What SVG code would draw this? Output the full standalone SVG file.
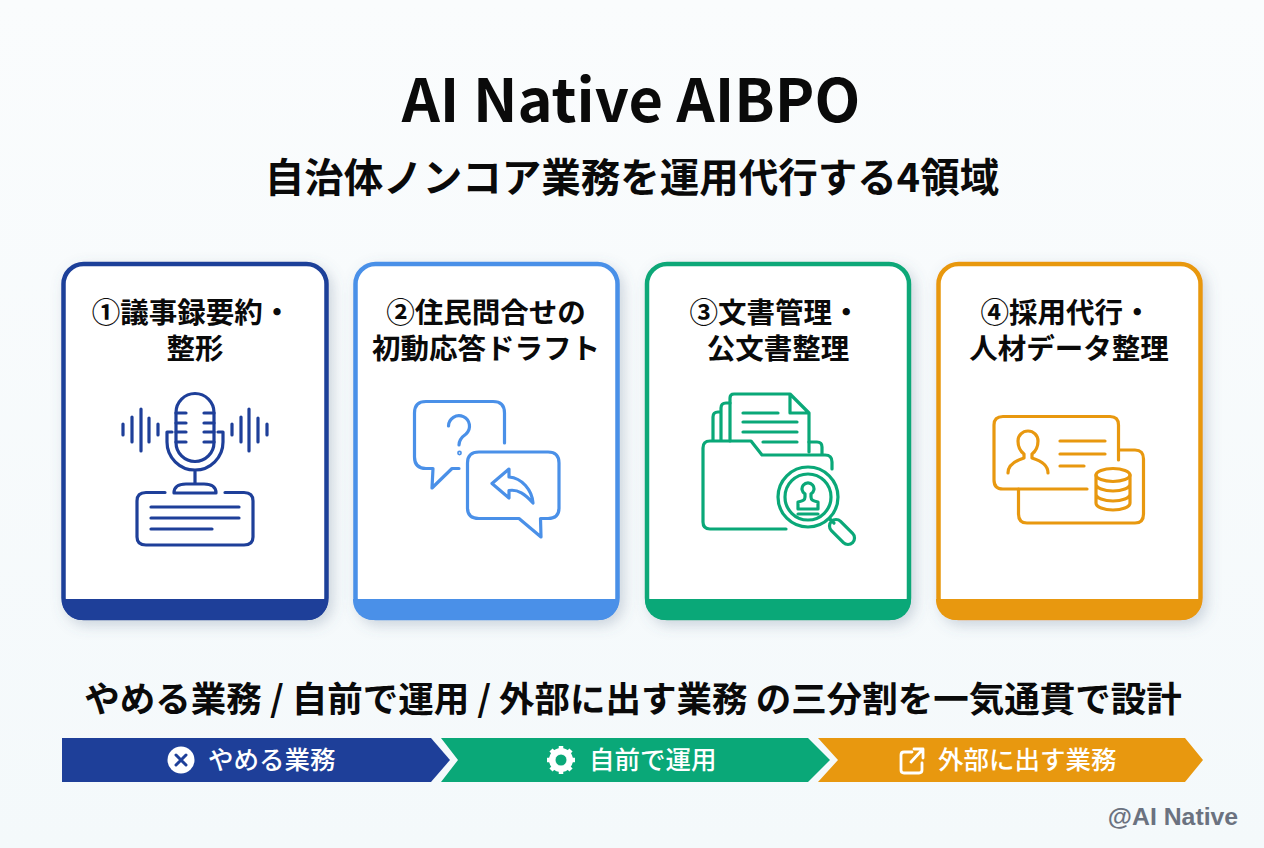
<svg xmlns="http://www.w3.org/2000/svg" width="1264" height="848" viewBox="0 0 1264 848">
<style>
text{font-family:"Noto Sans CJK JP","Noto Sans",sans-serif;font-weight:700;fill:#0a0a0a;text-anchor:middle}
.card{fill:#fff;stroke-width:4.5}
.ct{font-size:28.500px}
.ic{fill:none;stroke-width:3.200;stroke-linecap:round;stroke-linejoin:round}
.bt{font-size:25.500px;fill:#fff;font-weight:500;text-anchor:start}
</style>
<defs>
<linearGradient id="bg" x1="0" y1="0" x2="0" y2="1"><stop offset="0" stop-color="#fafcfd"/><stop offset="1" stop-color="#f4f9fb"/></linearGradient>
<filter id="sh" x="-15%" y="-10%" width="130%" height="120%"><feDropShadow dx="4" dy="5" stdDeviation="7" flood-color="#5a7088" flood-opacity=".28"/></filter>
</defs>
<rect width="1264" height="848" fill="url(#bg)"/>
<g id="title">
<text x="631" y="122" font-size="59.500">AI Native AIBPO</text>
<text x="632" y="192" font-size="39.500">自治体ノンコア業務を運用代行する4領域</text>
</g>

<g id="card1">
<rect class="card" x="63.500" y="264" width="263" height="354" rx="20" stroke="#1e3f99" filter="url(#sh)"/>
<path d="M62 599H328V600A20 20 0 0 1 308 620H82A20 20 0 0 1 62 600Z" fill="#1e3f99"/>
<text class="ct" x="191.500" y="323">①議事録要約・</text>
<text class="ct" x="195" y="359">整形</text>
<g class="ic" stroke="#1e3f99">
<rect x="176" y="393.500" width="38" height="68" rx="19"/>
<path d="M167 432H172M218 432H223M167 432V442A28 28 0 0 0 223 442V432M195 470V484M174 493C174 486 180 484 186 484H204C210 484 216 486 216 493ZM165 492.500H146Q137 492.500 137 501V537Q137 545 146 545H244Q253 545 253 537V501Q253 492.500 244 492.500H225"/>
<path d="M176 413H186M204 413H214M176 423H186M204 423H214M176 432H186M204 432H214M176 442H186M204 442H214"/>
<path d="M151 507H239M151 518H239M151 529H212"/>
<path d="M123 424V435M132 417V442M141 409V451M149 418V442M158 424V435M232 424V435M241 417V442M249 409V451M258 418V442M267 424V435"/>
</g>
</g>

<g id="card2">
<rect class="card" x="355.500" y="264" width="262" height="354" rx="20" stroke="#4a90e8" filter="url(#sh)"/>
<path d="M353 599H619V600A20 20 0 0 1 599 620H373A20 20 0 0 1 353 600Z" fill="#4a90e8"/>
<text class="ct" x="486" y="323">②住民問合せの</text>
<text class="ct" x="486" y="359">初動応答ドラフト</text>
<g class="ic" stroke="#4a90e8">
<path d="M504.500 443V413Q504.500 401.500 493 401.500H426Q414.500 401.500 414.500 413V457Q414.500 468.500 426 468.500H433L432 488L452 468.500H459"/>
<path d="M448.500 426A10.500 10.500 0 1 1 466 434Q459 439 459 445"/>
<circle cx="459.500" cy="453" r=".8"/>
<path d="M479 452H548Q559 452 559 463V508Q559 518.500 548 518.500H540.500L541 537L519 518.500H479Q467.500 518.500 467.500 508V463Q467.500 452 479 452Z"/>
<path d="M509 469L492 483.500L509 498V490.500C518 489 525 494 533 503C532 490 522 478 509 477Z"/>
</g>
</g>

<g id="card3">
<rect class="card" x="647" y="264" width="262" height="354" rx="20" stroke="#0aa878" filter="url(#sh)"/>
<path d="M645 599H911V600A20 20 0 0 1 891 620H665A20 20 0 0 1 645 600Z" fill="#0aa878"/>
<text class="ct" x="775" y="323">③文書管理・</text>
<text class="ct" x="778" y="359">公文書整理</text>
<g class="ic" stroke="#0aa878">
<path d="M730 441V398Q730 394 734 394H790L809 413V452M790 394V413H809"/>
<path d="M730 403H726Q721 403 721 408V440M721 412H718Q713 412 713 417V440"/>
<path d="M809 442H817Q822 442 822 447V454"/>
<path d="M786 529H710Q703 529 703 522V448Q703 441 710 441H751L762 455H825Q832 455 832 462V469"/>
<path d="M743 413H778M743 422H797M743 432H797M763 442H797"/>
<circle cx="808" cy="497" r="30"/><circle cx="808" cy="497" r="23"/>
<path d="M830 519L834 523"/>
<rect x="-6.500" y="-15" width="13" height="30" rx="6.500" transform="translate(842 532) rotate(-45)"/>
<path d="M805 497V494A6 6 0 1 1 811 494V497C811 500 813 501 818 502V509H798V502C803 501 805 500 805 497ZM798 514H818"/>
</g>
</g>

<g id="card4">
<rect class="card" x="938.500" y="264" width="262" height="354" rx="20" stroke="#e8980f" filter="url(#sh)"/>
<path d="M936 599H1202V600A20 20 0 0 1 1182 620H956A20 20 0 0 1 936 600Z" fill="#e8980f"/>
<text class="ct" x="1066" y="323">④採用代行・</text>
<text class="ct" x="1069" y="359">人材データ整理</text>
<g class="ic" stroke="#e8980f">
<path d="M1118.500 460V425Q1118.500 416.500 1110 416.500H1003Q994 416.500 994 425V480Q994 489 1003 489H1087"/>
<path d="M1018.500 489V514Q1018.500 523 1027 523H1135Q1143.500 523 1143.500 514V459Q1143.500 450 1135 450H1119"/>
<path d="M1008 473C1008 465 1014 461 1024 458V454C1020 451 1018 446 1018 441A10 10 0 0 1 1038 441C1038 446 1036 451 1032 454V458C1042 461 1048 465 1048 473"/>
<path d="M1060 441H1105M1060 454H1105M1060 466H1084"/>
<ellipse cx="1113" cy="475" rx="17" ry="6.500"/>
<path d="M1096 475V503C1096 507 1104 510 1113 510S1130 507 1130 503V475M1096 484C1096 488 1104 491 1113 491S1130 488 1130 484M1096 494C1096 498 1104 501 1113 501S1130 498 1130 494"/>
</g>
</g>

<g id="summary">
<text x="633" y="712" font-size="35.500">やめる業務 / 自前で運用 / 外部に出す業務 の三分割を一気通貫で設計</text>
</g>

<g id="banner">
<g id="step1">
<path d="M62 738H431L450 760L431 782H62Z" fill="#1e3f99"/>
<circle cx="181" cy="760" r="13.500" fill="#fff"/>
<path d="M176 755L186 765M186 755L176 765" stroke="#1e3f99" stroke-width="3" stroke-linecap="round"/>
<text class="bt" x="208" y="769">やめる業務</text>
</g>
<g id="step2">
<path d="M441 738H808L830 760L808 782H441L458 760Z" fill="#0aa878"/>
<circle cx="561" cy="760" r="9" fill="none" stroke="#fff" stroke-width="6"/>
<path d="M561 746V774M547 760H575M551 750L571 770M571 750L551 770" stroke="#fff" stroke-width="4.500"/>
<circle cx="561" cy="760" r="5.500" fill="#0aa878"/>
<text class="bt" x="589" y="769">自前で運用</text>
</g>
<g id="step3">
<path d="M818 738H1185L1203 760L1185 782H818L838 760Z" fill="#e8980f"/>
<path d="M912 752H904Q901 752 901 755V770Q901 773 904 773H919Q922 773 922 770V763M911 762L922 750M914 749H923V758" fill="none" stroke="#fff" stroke-width="2.800" stroke-linecap="round" stroke-linejoin="round"/>
<text class="bt" x="938" y="769">外部に出す業務</text>
</g>
</g>

<text id="watermark" x="1173" y="825" style="font-family:'Liberation Sans',sans-serif;fill:#6b7280" font-size="24.800">@AI Native</text>
</svg>
